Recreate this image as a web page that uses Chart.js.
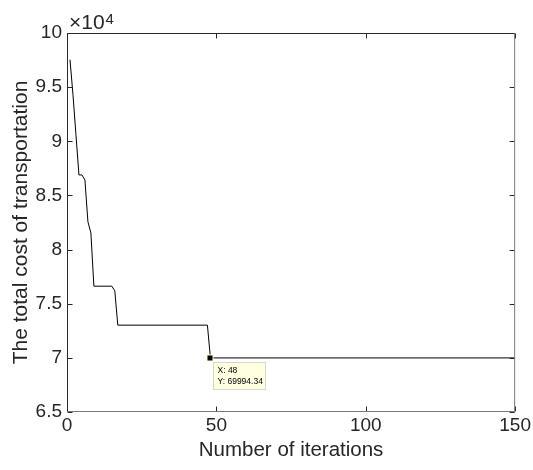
<!DOCTYPE html>
<html>
<head>
<meta charset="utf-8">
<script src="https://cdn.jsdelivr.net/npm/chart.js@4.4.1/dist/chart.umd.min.js"></script>
<style>
  html, body { margin: 0; padding: 0; background: #fff; }
  #wrap { width: 533px; height: 470px; }
</style>
</head>
<body>
<div id="wrap"><canvas id="costChart" width="533" height="470"></canvas></div>
<script>
// convergence of the total transportation cost (breakpoints of the curve)
const iterations = [1, 2, 3, 4, 5, 6, 7, 8, 9, 15, 16, 17, 47, 48, 150];
const totalCost = [97530, 94300, 90600, 86890, 86890, 86430, 82570, 81530, 76620, 76620, 76190, 73020, 73020, 69994.34, 69994.34];

const xTicks = [0, 50, 100, 150];
const yTicks = [65000, 70000, 75000, 80000, 85000, 90000, 95000, 100000];

// point with the data tip
const tipIndex = 13;

const FONT = "'Liberation Sans', Arial, Helvetica, sans-serif";
const AXIS_COLOR = '#262626';

const matlabAxes = {
  id: 'matlabAxes',
  afterDraw(chart) {
    const { ctx, chartArea: a, scales: { x, y } } = chart;
    const L = a.left + 0.5, R = a.right - 0.5, T = a.top + 0.5, B = a.bottom - 0.5;
    const tick = 5;
    ctx.save();
    ctx.lineWidth = 1;

    // inward ticks
    ctx.strokeStyle = AXIS_COLOR;
    ctx.beginPath();
    xTicks.forEach(v => {
      const px = Math.round(x.getPixelForValue(v)) + 0.5;
      ctx.moveTo(px, B); ctx.lineTo(px, B - tick);
      ctx.moveTo(px, T); ctx.lineTo(px, T + tick);
    });
    yTicks.forEach(v => {
      const py = Math.round(y.getPixelForValue(v)) + 0.5;
      ctx.moveTo(L, py); ctx.lineTo(L + tick, py);
      ctx.moveTo(R, py); ctx.lineTo(R - tick, py);
    });
    ctx.stroke();

    // box
    ctx.strokeStyle = '#2a2a2a';
    ctx.beginPath();
    ctx.moveTo(L, B); ctx.lineTo(L, T); ctx.lineTo(R, T);
    ctx.stroke();
    ctx.strokeStyle = '#7a7a7a';
    ctx.beginPath();
    ctx.moveTo(R, T); ctx.lineTo(R, B); ctx.lineTo(L, B);
    ctx.stroke();

    // x10^4 exponent
    ctx.fillStyle = AXIS_COLOR;
    ctx.textBaseline = 'alphabetic';
    ctx.textAlign = 'left';
    ctx.font = '21px ' + FONT;
    ctx.fillText('\u00d710', a.left + 2, a.top - 4);
    const w = ctx.measureText('\u00d710').width;
    ctx.font = '15px ' + FONT;
    ctx.fillText('4', a.left + 3 + w, a.top - 9);

    // data tip
    const meta = chart.getDatasetMeta(0);
    const pt = meta.data[tipIndex];
    const px = Math.round(pt.x), py = Math.round(pt.y);
    ctx.fillStyle = '#ffffcc';
    ctx.fillRect(px - 3.5, py - 3.5, 7, 7);
    ctx.fillStyle = '#000';
    ctx.fillRect(px - 2.5, py - 2.5, 5, 5);

    const bx = px + 3.5, by = py + 4.5, bw = 52, bh = 27;
    ctx.fillStyle = '#ffffe1';
    ctx.fillRect(bx, by, bw, bh);
    ctx.strokeStyle = '#d6d6c6';
    ctx.strokeRect(bx, by, bw, bh);

    ctx.fillStyle = '#000';
    ctx.font = '8.5px ' + FONT;
    ctx.textBaseline = 'middle';
    ctx.fillText('X: ' + iterations[tipIndex], bx + 4, by + 8.5);
    ctx.fillText('Y: ' + totalCost[tipIndex].toFixed(2), bx + 4, by + 19.5);
    ctx.restore();
  }
};

new Chart(document.getElementById('costChart'), {
  type: 'line',
  data: {
    datasets: [{
      data: iterations.map((it, i) => ({ x: it, y: totalCost[i] })),
      borderColor: '#000',
      borderWidth: 1,
      pointRadius: 0,
      tension: 0,
      fill: false
    }]
  },
  options: {
    responsive: false,
    devicePixelRatio: 1,
    animation: false,
    layout: { padding: { top: 33, right: 16, left: 0, bottom: 0 } },
    plugins: {
      legend: { display: false },
      tooltip: { enabled: false }
    },
    scales: {
      x: {
        type: 'linear',
        min: 0,
        max: 150,
        afterBuildTicks: s => { s.ticks = xTicks.map(v => ({ value: v })); },
        afterFit: s => { s.height = 58; },
        grid: { display: false, drawTicks: false },
        border: { display: false },
        ticks: {
          padding: 2,
          maxRotation: 0,
          color: AXIS_COLOR,
          font: { family: FONT, size: 19 }
        },
        title: {
          display: true,
          text: 'Number of iterations',
          color: AXIS_COLOR,
          font: { family: FONT, size: 20.5 },
          padding: { top: 0, bottom: 7 }
        }
      },
      y: {
        type: 'linear',
        min: 65000,
        max: 100000,
        afterBuildTicks: s => { s.ticks = yTicks.map(v => ({ value: v })); },
        afterFit: s => { s.width = 67; },
        grid: { display: false, drawTicks: false },
        border: { display: false },
        ticks: {
          padding: 5,
          color: AXIS_COLOR,
          font: { family: FONT, size: 19 },
          callback: v => String(v / 10000)
        },
        title: {
          display: true,
          text: 'The total cost of transportation',
          color: AXIS_COLOR,
          font: { family: FONT, size: 21 },
          padding: { top: 9, bottom: 0 }
        }
      }
    }
  },
  plugins: [matlabAxes]
});
</script>
</body>
</html>
